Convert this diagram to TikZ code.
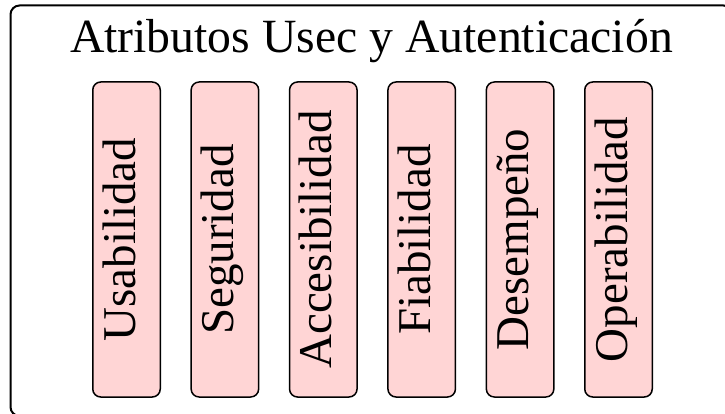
\documentclass[tikz,border=0pt]{standalone}
\usepackage{fontspec}
\setmainfont{Liberation Serif}
\usetikzlibrary{positioning}
\definecolor{attrpink}{RGB}{255,213,213}
\tikzset{
  attr/.style={draw, line width=1.5pt, rounded corners=8pt, fill=attrpink,
    rotate=90, minimum width=315pt, minimum height=67.5pt, inner sep=0pt,
    font=\fontsize{47}{49}\selectfont, text height=32pt, text depth=15pt},
  frame/.style={draw, line width=2pt, rounded corners=9pt}
}
\begin{document}
\begin{tikzpicture}[x=1pt,y=-1pt]
		\useasboundingbox (0,0) rectangle (725,414);
		\clip (0,0) rectangle (725,414);
		\draw[frame] (10.5,5.5) rectangle (732.5,416);
		\node[anchor=base, font=\fontsize{47.7}{50}\selectfont] (title) at (371.5,53) {Atributos Usec y Autenticación};
		\node[attr] (usab) at (126.5,239.5) {Usabilidad};
		\node[attr] (segu) at (224.9,239.5) {Seguridad};
		\node[attr] (acce) at (323.3,239.5) {Accesibilidad};
		\node[attr] (fiab) at (421.7,239.5) {Fiabilidad};
		\node[attr] (dese) at (520.1,239.5) {Desempeño};
		\node[attr] (oper) at (618.5,239.5) {Operabilidad};
\end{tikzpicture}
\end{document}
